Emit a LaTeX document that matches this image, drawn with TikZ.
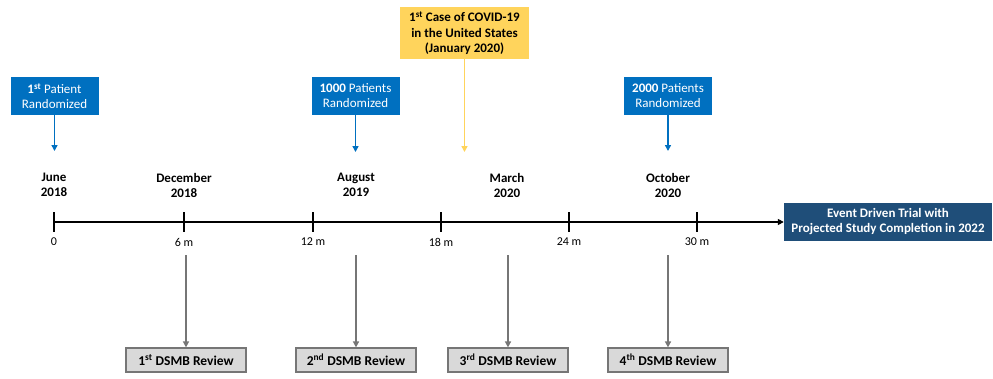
\documentclass[tikz,border=0pt]{standalone}
\usepackage{fontspec}
\setmainfont{Carlito}
\usepackage{tikz}
\usetikzlibrary{positioning,arrows.meta}
\definecolor{randblue}{RGB}{0,112,192}
\definecolor{eventblue}{RGB}{31,78,121}
\definecolor{covidyellow}{RGB}{255,212,92}
\definecolor{reviewgray}{RGB}{217,217,217}
\definecolor{arrowgray}{RGB}{118,118,118}
\tikzset{%
  box/.style={rectangle, inner sep=0pt, align=center, font=\fontsize{13}{15}\selectfont},
  randbox/.style={box, fill=randblue, text=white, minimum height=38, minimum width=88},% randomization milestone
  covidbox/.style={box, fill=covidyellow, text=black, font=\fontsize{13}{15.5}\selectfont\bfseries, minimum height=52, minimum width=129},% covid marker
  eventbox/.style={box, fill=eventblue, text=white, font=\fontsize{13}{15}\selectfont\bfseries, minimum height=38, minimum width=208},% end of trial
  reviewbox/.style={box, draw=arrowgray, line width=1.2pt, fill=reviewgray, font=\fontsize{13.5}{15}\selectfont\bfseries, minimum height=24, minimum width=120},% DSMB review
  datelabel/.style={align=center, font=\fontsize{13}{15}\selectfont\bfseries},% month and year
  monthlabel/.style={font=\fontsize{12}{14}\selectfont},% months after start
  tip/.style={-{Triangle[length=6pt,width=6pt]}}
}
\newcommand*{\axisy}{222}
\begin{document}
\begin{tikzpicture}[x=1pt, y=-1pt]
\useasboundingbox (0,0) rectangle (993,378);

% timeline
\node[eventbox] (event) at (888,222) {Event Driven Trial with\\Projected Study Completion in 2022};
\coordinate (start) at (54,\axisy);
\draw[tip, line width=1.8pt] (start) -- (event.west);

\foreach \x/\m in {54/0, 184/6 m, 313/12 m, 441/18 m, 569/24 m, 697/30 m}{
  \draw[line width=1.8pt] (\x,212) -- (\x,232);
  \node[monthlabel] at (\x,242) {\m};
}

% dates
\node[datelabel] (june) at (54,185) {June\\2018};
\node[datelabel] (dec) at (184,185) {December\\2018};
\node[datelabel] (aug) at (356,185) {August\\2019};
\node[datelabel] (mar) at (507,185) {March\\2020};
\node[datelabel] (oct) at (668,185) {October\\2020};

% randomization
\node[randbox] (pat1) at (54.5,96) {\textbf{1\textsuperscript{st}} Patient\\Randomized};
\node[randbox] (pat1000) at (355.5,96) {\textbf{1000} Patients\\Randomized};
\node[randbox] (pat2000) at (668,96) {\textbf{2000} Patients\\Randomized};
\coordinate (p1end) at (54.5,151);
\coordinate (p1000end) at (355.5,152);
\coordinate (p2000end) at (668,151);
\draw[tip, randblue, line width=1.8pt] (pat1) -- (p1end);
\draw[tip, randblue, line width=1.8pt] (pat1000) -- (p1000end);
\draw[tip, randblue, line width=1.8pt] (pat2000) -- (p2000end);

% covid
\node[covidbox] (covid) at (464.5,33) {1\textsuperscript{st} Case of COVID-19\\in the United States\\(January 2020)};
\coordinate (covidend) at (464.5,152);
\draw[tip, covidyellow, line width=1.8pt] (covid) -- (covidend);

% reviews
\node[reviewbox] (rev1) at (186,360) {1\textsuperscript{st} DSMB Review};
\node[reviewbox] (rev2) at (356,360) {2\textsuperscript{nd} DSMB Review};
\node[reviewbox] (rev3) at (508,360) {3\textsuperscript{rd} DSMB Review};
\node[reviewbox] (rev4) at (668,360) {4\textsuperscript{th} DSMB Review};
\foreach \r/\x in {rev1/186, rev2/356, rev3/508, rev4/668}{
  \coordinate (\r top) at (\x,255);
  \draw[tip, arrowgray, line width=2pt] (\r top) -- (\r);
}

\end{tikzpicture}
\end{document}
